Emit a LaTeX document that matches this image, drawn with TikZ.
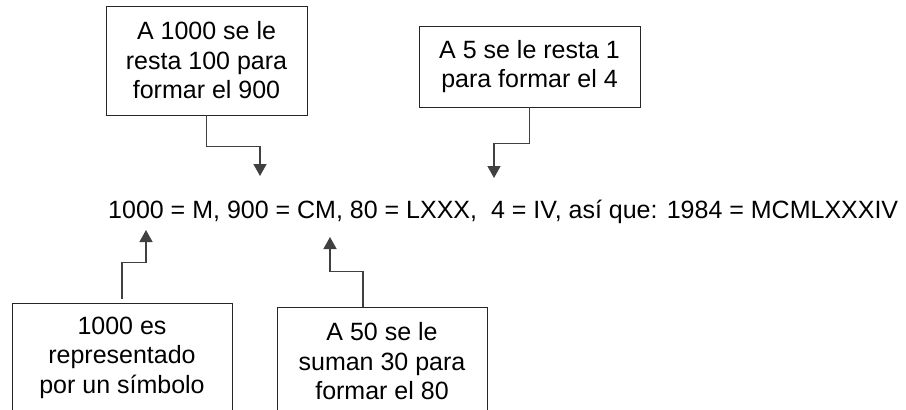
\documentclass[tikz,border=0pt]{standalone}
\usepackage{fontspec}
\setmainfont{Liberation Sans}
\usetikzlibrary{arrows.meta}

\begin{document}
\begin{tikzpicture}[x=1pt,y=-1pt,
        note/.style={draw=black!85,line width=0.9pt,align=center,inner sep=0pt,
            font=\fontsize{25}{29.5}\selectfont},
        pointer/.style={draw=black!75,line width=1.4pt,
            -{Triangle[width=13pt,length=12pt]}}]
    \useasboundingbox (0,0) rectangle (906,410);

    \node[anchor=base west,inner sep=0pt,font=\fontsize{25}{29.5}\selectfont] (eq) at (108,218)
        {1000 = M, 900 = CM, 80 = LXXX,\ \ 4 = IV, así que: 1984 = MCMLXXXIV};

    \node[note,minimum width=201pt,minimum height=109pt] (resta100) at (206.5,60.5)
        {A 1000 se le\\resta 100 para\\formar el 900};
    \node[note,minimum width=221pt,minimum height=81pt] (resta1) at (529.5,66.5)
        {A 5 se le resta 1\\para formar el 4};
    \node[note,minimum width=220pt,minimum height=109pt] (simbolo) at (122,357.5)
        {1000 es\\representado\\por un símbolo};
    \node[note,minimum width=210pt,minimum height=109pt] (suma30) at (382,361.5)
        {A 50 se le\\suman 30 para\\formar el 80};

    \coordinate (to-CM) at (260,176);
    \coordinate (to-IV) at (494,178);
    \coordinate (to-M) at (146,230);
    \coordinate (to-LXXX) at (330,237);

    \draw[pointer] (resta100.south) -- ++(0,31) -| (to-CM);
    \draw[pointer] (resta1.south) -- ++(0,36) -| (to-IV);
    \draw[pointer,shorten <=4pt] (simbolo.north) -- ++(0,-40) -| (to-M);
    \draw[pointer] ([xshift=-19pt]suma30.north) -- ++(0,-35) -| (to-LXXX);
\end{tikzpicture}
\end{document}
